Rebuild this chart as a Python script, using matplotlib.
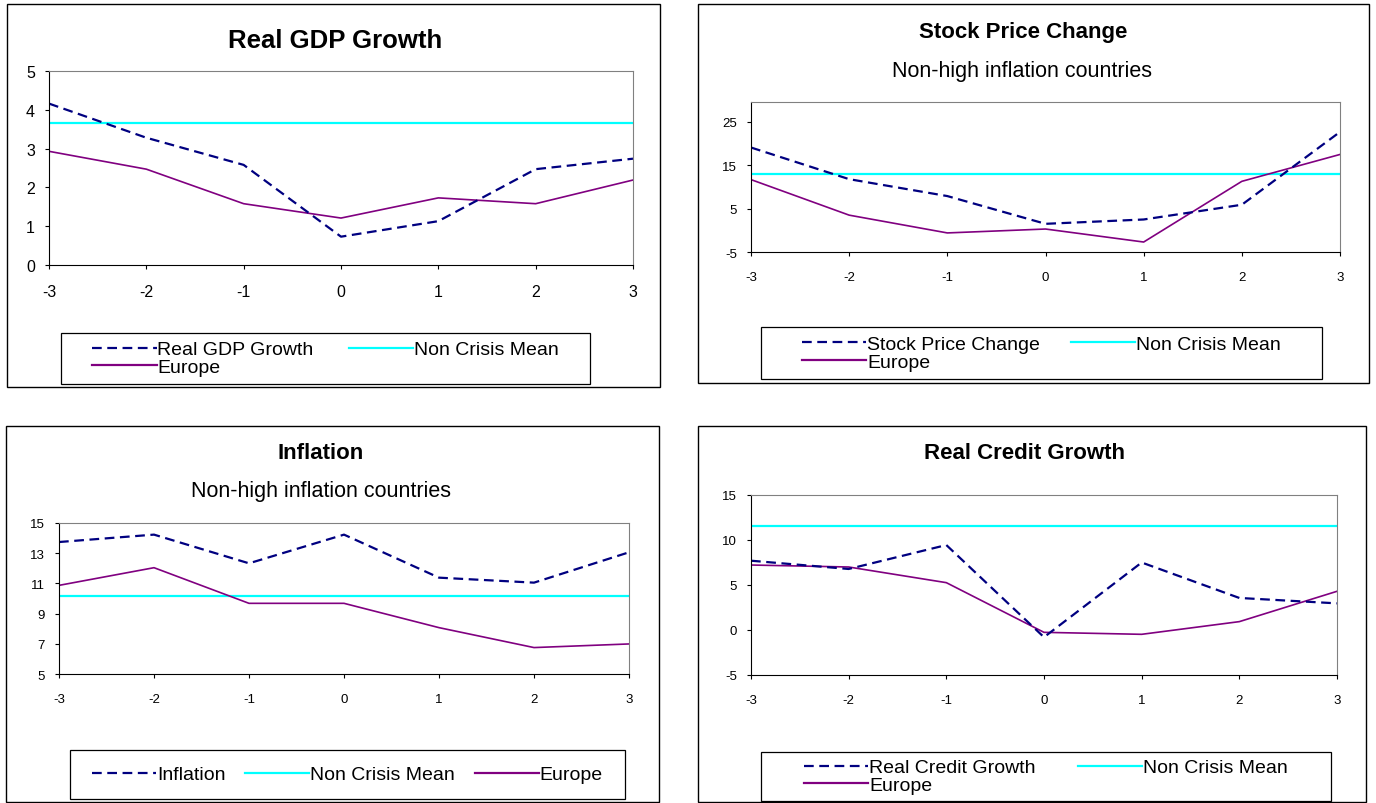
import matplotlib
matplotlib.use("Agg")
import matplotlib.pyplot as plt
from matplotlib.lines import Line2D
from matplotlib.patches import Rectangle

plt.rcParams['font.family'] = ['Liberation Sans', 'DejaVu Sans']
plt.rcParams['lines.scale_dashes'] = False
plt.rcParams['axes.unicode_minus'] = False

W, H = 1376, 804

# Data
years = [-3, -2, -1, 0, 1, 2, 3]

gdp = [4.16, 3.28, 2.58, 0.73, 1.13, 2.47, 2.74]
gdp_mean = 3.67
gdp_europe = [2.93, 2.47, 1.58, 1.21, 1.73, 1.58, 2.19]

stock = [19.1, 11.8, 7.9, 1.5, 2.5, 5.9, 22.7]
stock_mean = 12.9
stock_europe = [11.7, 3.5, -0.6, 0.3, -2.7, 11.3, 17.5]

infl = [13.74, 14.23, 12.33, 14.23, 11.38, 11.05, 13.06]
infl_mean = 10.19
infl_europe = [10.87, 12.04, 9.68, 9.68, 8.07, 6.75, 6.99]

credit = [7.7, 6.78, 9.44, -0.8, 7.5, 3.56, 2.96]
credit_mean = 11.6
credit_europe = [7.22, 7.0, 5.26, -0.26, -0.48, 0.93, 4.3]

NAVY = '#000080'
CYAN = '#00FFFF'
PURPLE = '#800080'


def fx(x):
    return x / W


def fy(y):
    return 1 - y / H


def add_frame(fig, x0, y0, x1, y1, lw=1.0):
    fig.patches.append(Rectangle((fx(x0), fy(y1)), fx(x1 - x0), (y1 - y0) / H,
                                 transform=fig.transFigure, fill=False,
                                 edgecolor='black', linewidth=lw, zorder=0))


def make_panel(fig, box, series, mean, europe, ylim, yticks, tick_size):
    x0, y0, x1, y1 = box
    ax = fig.add_axes([fx(x0), fy(y1), fx(x1 - x0), (y1 - y0) / H])
    ax.plot(years, [mean] * len(years), color=CYAN, linewidth=1.6)
    ax.plot(years, europe, color=PURPLE, linewidth=1.2)
    ax.plot(years, series, color=NAVY, linewidth=1.6, dashes=(7, 4))
    ax.set_xlim(-3, 3)
    ax.set_ylim(*ylim)
    ax.set_xticks(years)
    ax.set_yticks(yticks)
    ax.tick_params(axis='both', direction='out', length=3, width=0.8,
                   labelsize=tick_size)
    ax.tick_params(axis='x', pad=11)
    ax.tick_params(axis='y', pad=7)
    for s in ('top', 'right'):
        ax.spines[s].set_color('#808080')
    for s in ('left', 'bottom'):
        ax.spines[s].set_color('black')
    return ax


def add_legend(fig, box, labels, ncol, colspace):
    x0, y0, x1, y1 = box
    fig.patches.append(Rectangle((fx(x0), fy(y1)), fx(x1 - x0), (y1 - y0) / H,
                                 transform=fig.transFigure, fill=False,
                                 edgecolor='black', linewidth=0.9))
    h_dash = Line2D([], [], color=NAVY, linewidth=1.6, dashes=(7, 4))
    h_mean = Line2D([], [], color=CYAN, linewidth=1.6)
    h_eur = Line2D([], [], color=PURPLE, linewidth=1.6)
    if ncol == 2:
        handles = [h_dash, h_eur, h_mean]
        labs = [labels[0], 'Europe', 'Non Crisis Mean']
    else:
        handles = [h_dash, h_mean, h_eur]
        labs = [labels[0], 'Non Crisis Mean', 'Europe']
    fig.legend(handles, labs, loc='center', ncol=ncol,
               bbox_to_anchor=(fx((x0 + x1) / 2), fy((y0 + y1) / 2)),
               bbox_transform=fig.transFigure, frameon=False,
               fontsize=14, handlelength=3.3, handletextpad=0.05,
               columnspacing=colspace, labelspacing=0.0, borderpad=0)


fig = plt.figure(figsize=(W / 100, H / 100), dpi=100)

# Real GDP Growth
add_frame(fig, 7, 5, 660, 388)
make_panel(fig, (49, 72, 633, 266), gdp, gdp_mean, gdp_europe,
           (0, 5), [0, 1, 2, 3, 4, 5], 11.5)
fig.text(fx(335), fy(48), 'Real GDP Growth', ha='center', va='baseline',
         fontsize=18.5, fontweight='bold')
add_legend(fig, (61, 334, 590, 385), ['Real GDP Growth'], 2, 1.8)

# Stock Price Change
add_frame(fig, 698, 5, 1369, 384)
make_panel(fig, (751, 103, 1340, 253), stock, stock_mean, stock_europe,
           (-5, 29.6), [-5, 5, 15, 25], 9.5)
fig.text(fx(1023), fy(38), 'Stock Price Change', ha='center', va='baseline',
         fontsize=16, fontweight='bold')
fig.text(fx(1022), fy(77), 'Non-high inflation countries', ha='center',
         va='baseline', fontsize=15.5)
add_legend(fig, (761, 328, 1322, 380), ['Stock Price Change'], 2, 1.6)

# Inflation
add_frame(fig, 6, 427, 659, 803)
make_panel(fig, (59, 524, 629, 675), infl, infl_mean, infl_europe,
           (5, 15), [5, 7, 9, 11, 13, 15], 9.5)
fig.text(fx(321), fy(459), 'Inflation', ha='center', va='baseline',
         fontsize=16, fontweight='bold')
fig.text(fx(321), fy(497), 'Non-high inflation countries', ha='center',
         va='baseline', fontsize=15.5)
add_legend(fig, (70, 751, 625, 800), ['Inflation'], 3, 1.0)

# Real Credit Growth
add_frame(fig, 698, 427, 1366, 803)
make_panel(fig, (751, 496, 1337, 676), credit, credit_mean, credit_europe,
           (-5, 15), [-5, 0, 5, 10, 15], 9.5)
fig.text(fx(1024), fy(459), 'Real Credit Growth', ha='center', va='baseline',
         fontsize=16, fontweight='bold')
add_legend(fig, (761, 753, 1331, 802), ['Real Credit Growth'], 2, 2.2)

fig.savefig('out.png', dpi=100)
